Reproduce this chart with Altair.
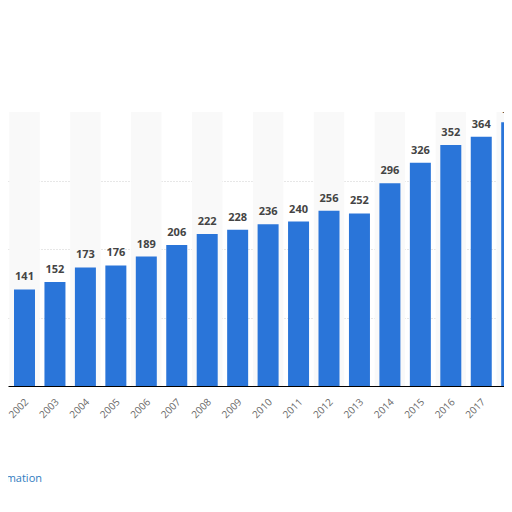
import altair as alt
import pandas as pd

years = list(range(2001, 2019))
values = [131, 141, 152, 173, 176, 189, 206, 222, 228, 236, 240, 256, 252, 296, 326, 352, 364, 385]
tick_years = list(range(2002, 2019))
grid_values = [100, 200, 300]

df = pd.DataFrame({"year": years, "value": values})

x_scale = alt.Scale(domain=[2001.458, 2017.747], nice=False, zero=False, padding=0)
y_scale = alt.Scale(domain=[0, 400], nice=False, padding=0)

x_axis = alt.Axis(
    values=tick_years,
    format="d",
    title=None,
    labelAngle=-45,
    labelAlign="right",
    labelBaseline="middle",
    labelColor="#6a6a6a",
    labelFontSize=10,
    labelFont="Open Sans",
    labelPadding=14,
    labelOffset=2,
    ticks=False,
    grid=False,
    domain=True,
    domainColor="#000000",
    domainWidth=1,
    labelOverlap=False,
    labelBound=False,
    labelFlush=False,
)
y_axis = alt.Axis(
    values=grid_values,
    title=None,
    labels=False,
    ticks=False,
    domain=False,
    grid=True,
    gridColor="#cfcfcf",
    gridDash=[1, 2],
    gridWidth=1,
)

base = alt.Chart(df)

shade = base.transform_filter("datum.year % 2 == 0").transform_calculate(
    x0="datum.year - 0.5", x1="datum.year + 0.5", y0="0", y1="400"
).mark_rect(color="#f9f9f9", clip=True).encode(
    x=alt.X("x0:Q", scale=x_scale, axis=x_axis),
    x2="x1:Q",
    y=alt.Y("y0:Q", scale=y_scale, axis=y_axis),
    y2="y1:Q",
)

bars = base.mark_bar(color="#2a75d9", size=21, clip=True).encode(
    x=alt.X("year:Q", scale=x_scale, axis=x_axis),
    y=alt.Y("value:Q", scale=y_scale, axis=y_axis),
)

labels = base.mark_text(
    font="Open Sans",
    fontSize=11,
    fontWeight="bold",
    color="#444444",
    baseline="alphabetic",
    dy=-9,
    clip=True,
).encode(
    x=alt.X("year:Q", scale=x_scale, axis=x_axis),
    y=alt.Y("value:Q", scale=y_scale, axis=y_axis),
    text=alt.Text("value:Q", format="d"),
)

info = alt.Chart(pd.DataFrame({"t": ["Additional Information"]})).mark_text(
    font="Open Sans", fontSize=11, color="#2f7cc0", align="right", baseline="middle"
).encode(x=alt.value(34), y=alt.value(367), text="t:N")

chart = alt.layer(shade, bars, labels, info).properties(
    width=496,
    height=274,
    padding={"top": 104, "left": 0, "right": 0, "bottom": 118},
    autosize=alt.AutoSizeParams(type="none"),
).configure_view(stroke=None)

chart.save("out.html", embed_options={"renderer": "svg", "actions": False})
